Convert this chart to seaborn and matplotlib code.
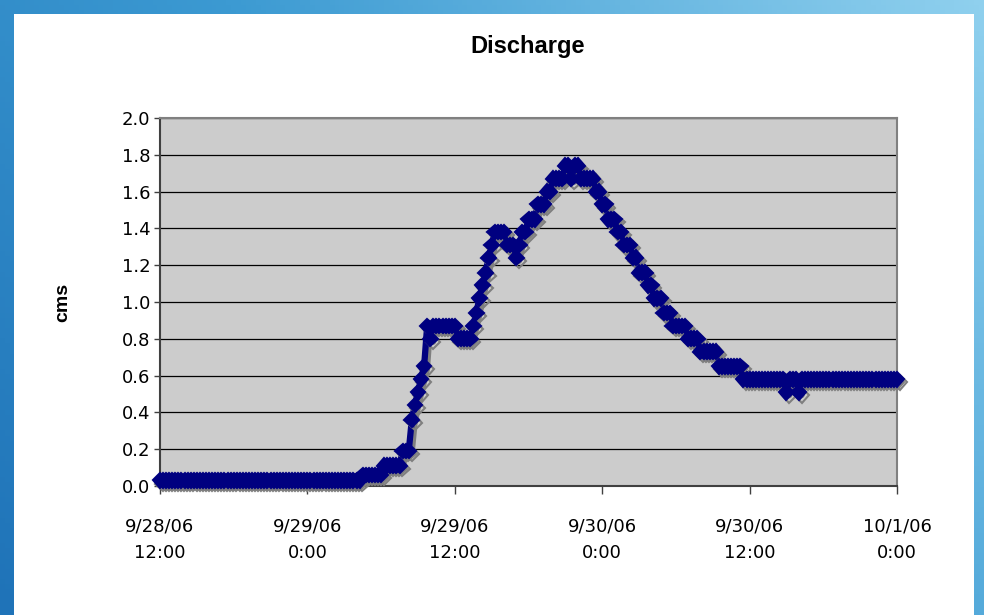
import numpy as np
import pandas as pd
import matplotlib
matplotlib.use("Agg")
import matplotlib.pyplot as plt
import matplotlib.patheffects as pe
from matplotlib.patches import Rectangle
from matplotlib.colors import LinearSegmentedColormap
import seaborn as sns

# ---- data: 15-minute discharge readings (cms), run-length encoded ----
levels = [0.03, 0.06, 0.11, 0.19, 0.36, 0.44, 0.51, 0.58, 0.65, 0.87, 0.80, 0.87, 0.80,
          0.87, 0.94, 1.02, 1.09, 1.16, 1.24, 1.31, 1.38, 1.31, 1.24, 1.31, 1.38, 1.45,
          1.53, 1.60, 1.67, 1.74, 1.67, 1.74, 1.67, 1.60, 1.53, 1.45, 1.38, 1.31, 1.24,
          1.16, 1.09, 1.02, 0.94, 0.87, 0.80, 0.73, 0.65, 0.58, 0.51, 0.58, 0.51, 0.58]
readings = [66, 7, 6, 3, 1, 1, 1, 1, 1, 1, 1, 8, 5,
            1, 1, 1, 1, 1, 1, 1, 4, 3, 1, 1, 2, 3,
            3, 2, 4, 2, 1, 2, 5, 2, 2, 3, 2, 3, 2,
            3, 2, 3, 3, 5, 4, 6, 8, 14, 1, 3, 1, 32]
start_time = "2006-09-28 12:00"
sample_step = "15min"
tick_labels = ["9/28/06\n12:00", "9/29/06\n0:00", "9/29/06\n12:00",
               "9/30/06\n0:00", "9/30/06\n12:00", "10/1/06\n0:00"]
y_ticks = [0.0, 0.2, 0.4, 0.6, 0.8, 1.0, 1.2, 1.4, 1.6, 1.8, 2.0]

discharge = np.repeat(levels, readings)
times = pd.date_range(start_time, periods=len(discharge), freq=sample_step)
hours = (times - times[0]).total_seconds() / 3600.0
df = pd.DataFrame({"hours": hours, "cms": discharge})

sns.set_theme(style="white")
fig = plt.figure(figsize=(9.84, 6.15), dpi=100)

# slide-like blue background
bg = fig.add_axes([0, 0, 1, 1], zorder=-10)
gx, gy = np.meshgrid(np.linspace(0, 1, 200), np.linspace(0, 1, 120))
grad = 0.65 * gx + 0.35 * (1 - gy)
cmap = LinearSegmentedColormap.from_list("slide", ["#1f73b8", "#3c9ad2", "#8fd0ee"])
bg.imshow(grad, cmap=cmap, aspect="auto", extent=[0, 1, 0, 1], origin="upper")
bg.add_patch(Rectangle((14 / 984, 0), (974 - 14) / 984, 1 - 14 / 615,
                       transform=bg.transAxes, facecolor="white", edgecolor="none"))
bg.set_xlim(0, 1); bg.set_ylim(0, 1)
bg.axis("off")

ax = fig.add_axes([160 / 984, 1 - 486 / 615, (897 - 160) / 984, (486 - 118) / 615])
ax.set_facecolor("#cccccc")

sns.lineplot(data=df, x="hours", y="cms", ax=ax, color="#000080", linewidth=4.5,
             marker="D", markersize=7.5, markeredgecolor="#000080", markeredgewidth=1.5,
             clip_on=False, zorder=5,
             path_effects=[pe.SimpleLineShadow(offset=(2.0, -2.2), shadow_color="#7f7f7f",
                                               alpha=1.0), pe.Normal()])

ax.set_xlim(0, 60)
ax.set_ylim(0, 2.0)
ax.set_xticks([0, 12, 24, 36, 48, 60])
ax.set_xticklabels(tick_labels, fontsize=13, family="DejaVu Sans", linespacing=1.6)
ax.set_yticks(y_ticks)
ax.set_yticklabels([f"{v:.1f}" for v in y_ticks], fontsize=13, family="DejaVu Sans")
ax.grid(axis="y", color="black", linewidth=0.9)
ax.grid(axis="x", visible=False)
for s in ["top", "right"]:
    ax.spines[s].set_color("#808080")
    ax.spines[s].set_linewidth(1.5)
for s in ["left", "bottom"]:
    ax.spines[s].set_color("#404040")
    ax.spines[s].set_linewidth(1.5)
ax.tick_params(axis="x", direction="out", length=6, width=1, color="#404040", pad=17,
               bottom=True, labelcolor="black")
ax.tick_params(axis="y", direction="out", length=4, width=1, color="#404040", pad=3,
               left=True, labelcolor="black")
ax.set_xlabel("")
ax.set_ylabel("cms", fontsize=14, fontweight="bold", family="Liberation Sans",
              labelpad=36, color="black")

fig.text(528 / 984, 1 - 46 / 615, "Discharge", ha="center", va="center", fontsize=17,
         fontweight="bold", family="Liberation Sans", color="black")

fig.savefig("out.png", dpi=100)
